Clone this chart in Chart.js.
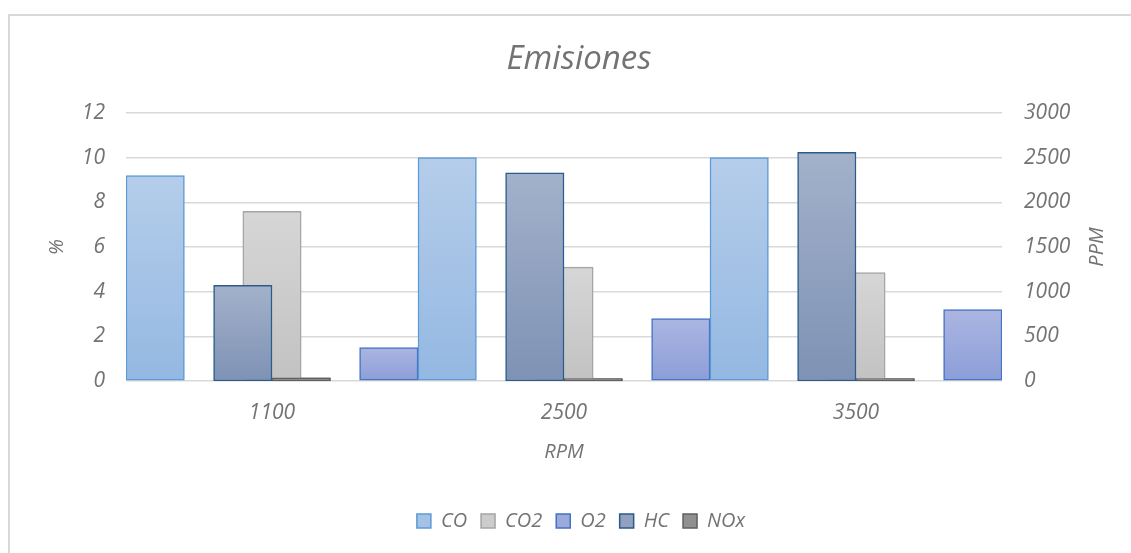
<!DOCTYPE html>
<html lang="es">
<head>
<meta charset="utf-8">
<title>Emisiones</title>
<script src="https://cdn.jsdelivr.net/npm/chart.js@4.4.1/dist/chart.umd.min.js"></script>
<style>
  html, body { margin: 0; padding: 0; background: #ffffff; overflow: hidden; width: 1131px; height: 553px; }
  #frame { position: absolute; left: 8px; top: 14px; width: 1400px; height: 800px;
           border-left: 2px solid #d9d9d9; border-top: 2px solid #d9d9d9; }
  #chart { position: absolute; left: 0; top: 0; }
</style>
</head>
<body>
<div id="frame"></div>
<canvas id="chart" width="1162" height="553"></canvas>
<script>
// Engine speeds (RPM)
const categories = ['1100', '2500', '3500'];

// Gases measured in percent (left axis)
const coPct  = [9.2, 10.0, 10.0];
const co2Pct = [7.6, 5.1, 4.85];
const o2Pct  = [1.5, 2.8, 3.2];

// Gases measured in parts per million (right axis)
const hcPpm  = [1070, 2330, 2560];
const noxPpm = [35, 28, 28];

// Axis tick labels
const pctTicks = [0, 2, 4, 6, 8, 10, 12];
const ppmTicks = [0, 500, 1000, 1500, 2000, 2500, 3000];

const chartTitle = 'Emisiones';

// Fill gradients and outlines per series
const seriesStyles = {
  CO:  { top: '#b5cdea', bottom: '#94b8e2', mid: '#a4c2e6', border: '#5b9bd5' },
  CO2: { top: '#d6d6d6', bottom: '#c2c2c2', mid: '#cccccc', border: '#a5a5a5' },
  O2:  { top: '#abb5e1', bottom: '#8c9ed8', mid: '#9caadc', border: '#4472c4' },
  HC:  { top: '#a3b1ca', bottom: '#7e92b5', mid: '#91a1bf', border: '#2a5b8b' },
  NOx: { top: '#9c9c9c', bottom: '#848484', mid: '#909090', border: '#606060' }
};

const FONT = '"Open Sans", "DejaVu Sans", sans-serif';
const TEXT = '#737373';

function barFill(key) {
  return (ctx) => {
    const st = seriesStyles[key];
    const chart = ctx.chart;
    if (ctx.type !== 'data' || !chart.chartArea) return st.mid;
    const ds = chart.data.datasets[ctx.datasetIndex];
    const yScale = chart.scales[ds.yAxisID];
    const top = yScale.getPixelForValue(ctx.raw);
    const base = yScale.getPixelForValue(0);
    if (!isFinite(top) || !isFinite(base) || base - top < 1) return st.mid;
    const g = chart.ctx.createLinearGradient(0, top, 0, base);
    g.addColorStop(0, st.top);
    g.addColorStop(1, st.bottom);
    return g;
  };
}

// One group of five slots per category (order sets the slot):
// CO | HC | CO2 | NOx | O2. Slot spacing is scaled per series with
// categoryPercentage so the percent bars sit wide apart and the ppm
// bars sit packed around the centre, each bar the same width.
function series(label, values, axis, slot, catPct, barPct) {
  return {
    label, data: values, yAxisID: axis, order: slot,
    backgroundColor: barFill(label), borderColor: seriesStyles[label].border,
    borderWidth: 1.5, borderSkipped: false,
    categoryPercentage: catPct, barPercentage: barPct
  };
}

// Vertical "PPM" caption for the right-hand axis, reading bottom to top
const ppmTitle = {
  id: 'ppmTitle',
  afterDraw(chart) {
    const { ctx, chartArea } = chart;
    ctx.save();
    ctx.translate(1097, (chartArea.top + chartArea.bottom) / 2);
    ctx.rotate(-Math.PI / 2);
    ctx.font = 'italic 20px ' + FONT;
    ctx.fillStyle = TEXT;
    ctx.textAlign = 'center';
    ctx.textBaseline = 'middle';
    ctx.fillText('PPM', 0, 0);
    ctx.restore();
  }
};

// Chart heading
const heading = {
  id: 'heading',
  afterDraw(chart) {
    const { ctx } = chart;
    ctx.save();
    ctx.font = 'italic 33px ' + FONT;
    ctx.fillStyle = TEXT;
    ctx.textAlign = 'center';
    ctx.textBaseline = 'alphabetic';
    ctx.fillText(chartTitle, 579, 69);
    ctx.restore();
  }
};

// NOx outline sits over the CO2 bar base
const noxOnTop = {
  id: 'noxOnTop',
  afterDatasetsDraw(chart) {
    const i = chart.data.datasets.findIndex(d => d.label === 'NOx');
    const meta = chart.getDatasetMeta(i);
    if (!meta || meta.hidden) return;
    const { ctx, chartArea } = chart;
    ctx.save();
    ctx.beginPath();
    ctx.rect(chartArea.left, chartArea.top, chartArea.right - chartArea.left, chartArea.bottom - chartArea.top + 2);
    ctx.clip();
    meta.data.forEach(el => el.draw(ctx));
    ctx.restore();
  }
};

const tickFont = { family: FONT, size: 21, style: 'italic' };

new Chart(document.getElementById('chart'), {
  type: 'bar',
  data: {
    labels: categories,
    datasets: [
      series('CO',  coPct,  'y',  0, 1.0, 1.0),
      series('CO2', co2Pct, 'y',  2, 1.0, 1.0),
      series('O2',  o2Pct,  'y',  4, 1.0, 1.0),
      series('HC',  hcPpm,  'y1', 1, 0.5, 2.0),
      series('NOx', noxPpm, 'y1', 3, 0.5, 2.0)
    ]
  },
  options: {
    responsive: false,
    animation: false,
    layout: { padding: { left: 0, right: 0, top: 113, bottom: 12 } },
    scales: {
      x: {
        type: 'category', offset: true,
        grid: { display: false, drawTicks: false },
        border: { display: false },
        ticks: { color: TEXT, font: tickFont, padding: 19 },
        title: { display: true, text: 'RPM', color: TEXT,
                 font: { family: FONT, size: 20, style: 'italic' },
                 padding: { top: 0, bottom: 33 } },
        afterFit(s) { s.height = 116; }
      },
      y: {
        position: 'left', min: 0, max: 12,
        afterBuildTicks(s) { s.ticks = pctTicks.map(v => ({ value: v })); },
        grid: { color: '#d9d9d9', lineWidth: 1.5, drawTicks: false },
        border: { display: false },
        ticks: { color: TEXT, font: tickFont, padding: 21, callback: v => String(v) },
        title: { display: true, text: '%', color: TEXT,
                 font: { family: FONT, size: 20, style: 'italic' },
                 padding: { top: 45, bottom: 0 } },
        afterFit(s) { s.width = 126; }
      },
      y1: {
        position: 'right', min: 0, max: 3000,
        afterBuildTicks(s) { s.ticks = ppmTicks.map(v => ({ value: v })); },
        grid: { display: false, drawTicks: false },
        border: { display: false },
        ticks: { color: TEXT, font: tickFont, padding: 22, callback: v => String(v) },
        afterFit(s) { s.width = 160; }
      }
    },
    plugins: {
      title: { display: false },
      legend: {
        position: 'bottom',
        labels: {
          color: TEXT, boxWidth: 14, boxHeight: 14, padding: 14,
          font: { family: FONT, size: 20, style: 'italic' },
          sort: (a, b) => a.datasetIndex - b.datasetIndex,
          generateLabels(chart) {
            const items = Chart.defaults.plugins.legend.labels.generateLabels(chart);
            items.forEach(it => {
              const st = seriesStyles[it.text];
              it.fillStyle = st.mid;
              it.strokeStyle = st.border;
              it.lineWidth = 1.5;
            });
            return items;
          }
        }
      },
      tooltip: { enabled: false }
    }
  },
  plugins: [ppmTitle, heading, noxOnTop]
});
</script>
</body>
</html>
